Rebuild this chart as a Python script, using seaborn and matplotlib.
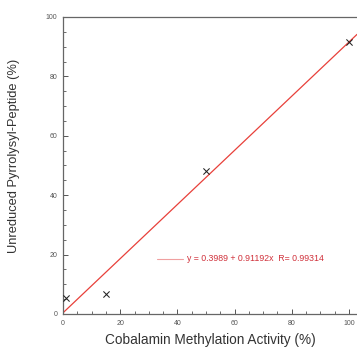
import numpy as np
import pandas as pd
import seaborn as sns
import matplotlib.pyplot as plt
from matplotlib.ticker import MultipleLocator

# data
activity = [1, 15, 50, 100]
unreduced = [5.5, 6.8, 48.0, 91.5]
intercept = 0.3989
slope = 0.91192
fit_label = 'y = 0.3989 + 0.91192x  R= 0.99314'

df = pd.DataFrame({'activity': activity, 'unreduced': unreduced})

sns.set_style('ticks')
plt.rcParams['font.family'] = ['Liberation Sans', 'DejaVu Sans']

fig = plt.figure(figsize=(3.57, 3.49), dpi=100)
ax = fig.add_axes([0.1765, 0.1003, 0.8235, 0.851])

sns.scatterplot(data=df, x='activity', y='unreduced', marker='x', color='#222222',
                s=20, linewidth=0.75, ax=ax, zorder=3)
ax.axline((0, intercept), slope=slope, color='#e8403a', linewidth=0.9)

# legend-like annotation
ax.plot([33, 42], [18.6, 18.6], color='#f0a0a0', linewidth=0.8)
ax.text(43.5, 18.6, fit_label, color='#d0303a', fontsize=6.3, va='center')

ax.set_xlim(0, 102.8)
ax.set_ylim(0, 100)
ax.xaxis.set_major_locator(MultipleLocator(20))
ax.xaxis.set_minor_locator(MultipleLocator(5))
ax.yaxis.set_major_locator(MultipleLocator(20))
ax.yaxis.set_minor_locator(MultipleLocator(5))
ax.tick_params(which='major', direction='in', length=3.5, width=0.7,
               labelsize=5, colors='#555555', pad=4)
ax.tick_params(which='minor', direction='in', length=2, width=0.6, colors='#555555')
ax.tick_params(axis='x', top=False)
ax.tick_params(axis='y', right=False)

for side in ['left', 'bottom', 'top']:
    ax.spines[side].set_color('#666666')
    ax.spines[side].set_linewidth(0.9)
ax.spines['right'].set_visible(False)

ax.set_xlabel('Cobalamin Methylation Activity (%)', fontsize=9.8, color='#333333', labelpad=5)
ax.set_ylabel('Unreduced Pyrrolysyl-Peptide (%)', fontsize=9.3, color='#333333')
ax.yaxis.set_label_coords(-0.146, 0.532)

fig.savefig('out.png', dpi=100)
